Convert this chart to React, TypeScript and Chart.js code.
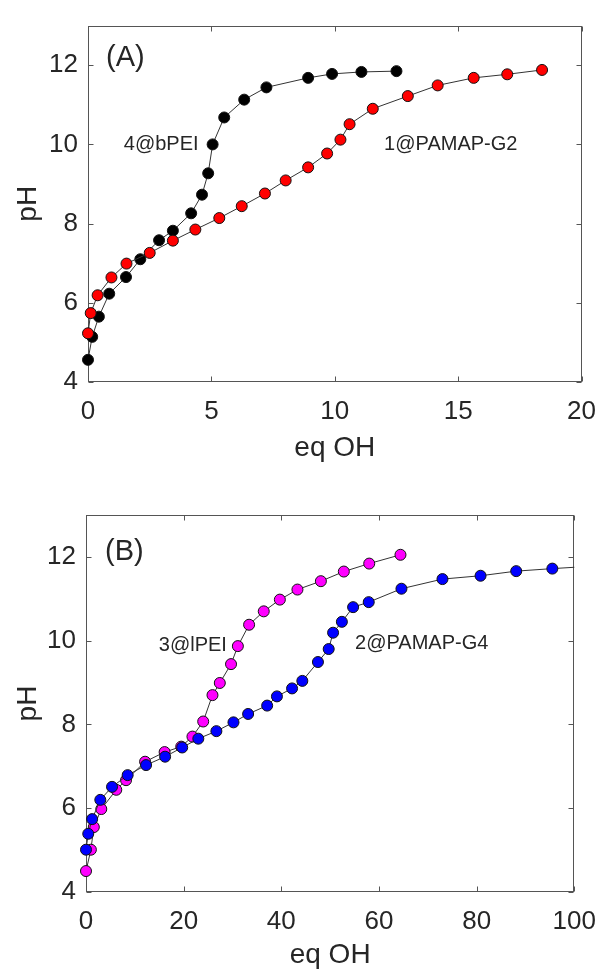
import React, { useEffect, useRef } from "react";
import { Chart, registerables } from "chart.js";

Chart.register(...registerables);

// ---- Panel A: titration of 4@bPEI and 1@PAMAP-G2 ----
const bpeiEq = [0, 0.17, 0.44, 0.86, 1.54, 2.12, 2.88, 3.44, 4.18, 4.62, 4.87, 5.05, 5.52, 6.33, 7.23, 8.92, 9.89, 11.08, 12.5];
const bpeiPH = [4.56, 5.14, 5.65, 6.23, 6.65, 7.1, 7.58, 7.82, 8.26, 8.73, 9.27, 10.0, 10.68, 11.13, 11.44, 11.68, 11.78, 11.83, 11.85];

const g2Eq = [0, 0.11, 0.39, 0.95, 1.56, 2.5, 3.44, 4.35, 5.32, 6.23, 7.17, 8.01, 8.92, 9.69, 10.23, 10.6, 11.54, 12.96, 14.17, 15.63, 16.99, 18.4];
const g2PH = [5.23, 5.74, 6.19, 6.64, 6.99, 7.26, 7.57, 7.85, 8.14, 8.44, 8.76, 9.09, 9.42, 9.77, 10.12, 10.51, 10.9, 11.22, 11.49, 11.68, 11.77, 11.88];

// ---- Panel B: titration of 3@lPEI and 2@PAMAP-G4 ----
const lpeiEq = [0, 1.0, 1.6, 3.13, 6.2, 8.2, 12.1, 16.1, 19.5, 21.8, 24.0, 25.9, 27.4, 29.7, 31.1, 33.4, 36.4, 39.7, 43.3, 48.1, 52.8, 58.0, 64.4];
const lpeiPH = [4.5, 5.01, 5.55, 5.98, 6.44, 6.67, 7.11, 7.34, 7.47, 7.71, 8.07, 8.7, 8.99, 9.44, 9.87, 10.38, 10.7, 10.98, 11.22, 11.42, 11.65, 11.84, 12.05];

const g4Eq = [0, 0.46, 1.26, 2.93, 5.33, 8.53, 12.3, 16.2, 19.7, 23.0, 26.7, 30.2, 33.2, 37.1, 39.1, 42.2, 44.3, 47.5, 49.7, 50.6, 52.4, 54.7, 57.9, 64.6, 73.0, 80.8, 88.1, 95.5, 104];
const g4PH = [5.01, 5.39, 5.74, 6.2, 6.51, 6.79, 7.03, 7.23, 7.45, 7.66, 7.84, 8.05, 8.25, 8.45, 8.67, 8.86, 9.04, 9.49, 9.8, 10.19, 10.45, 10.8, 10.92, 11.24, 11.47, 11.55, 11.66, 11.72, 11.78];

// ---- Axis ticks ----
const xTicksA = [0, 5, 10, 15, 20];
const xTicksB = [0, 20, 40, 60, 80, 100];
const yTicks = [4, 6, 8, 10, 12];

const FONT = '"Liberation Sans", Arial, Helvetica, sans-serif';
const INK = "#262626";
const FRAME = "#555555";

type Series = { label: string; xs: number[]; ys: number[]; fill: string; clip?: any };
type Note = { text: string; x: number; y: number; size: number };

type PanelProps = {
  xMax: number;
  xTicks: number[];
  series: Series[];
  notes: Note[];
  area: { left: number; right: number; top: number; bottom: number };
  titleGap: number;
};

const W = 610;
const H = 486;

const zip = (xs: number[], ys: number[]) => xs.map((x, i) => ({ x, y: ys[i] }));

// Box frame with inward ticks on all four sides (drawn under the markers)
const framePlugin = {
  id: "frame",
  beforeDatasetsDraw(chart: any) {
    const { ctx, chartArea: a, scales } = chart;
    const L = Math.round(a.left) + 0.5;
    const R = Math.round(a.right) - 0.5;
    const T = Math.round(a.top) + 0.5;
    const B = Math.round(a.bottom) - 0.5;
    ctx.save();
    ctx.strokeStyle = FRAME;
    ctx.lineWidth = 1;
    ctx.strokeRect(L, T, R - L, B - T);
    const len = 5;
    ctx.beginPath();
    for (const t of scales.x.ticks) {
      const px = Math.round(scales.x.getPixelForValue(t.value)) + 0.5;
      ctx.moveTo(px, B);
      ctx.lineTo(px, B - len);
      ctx.moveTo(px, T);
      ctx.lineTo(px, T + len);
    }
    for (const t of scales.y.ticks) {
      const py = Math.round(scales.y.getPixelForValue(t.value)) + 0.5;
      ctx.moveTo(L, py);
      ctx.lineTo(L + len, py);
      ctx.moveTo(R, py);
      ctx.lineTo(R - len, py);
    }
    ctx.stroke();
    ctx.restore();
  },
  afterDraw(chart: any) {
    const { ctx, chartArea: a, scales } = chart;
    const opts = chart.options.plugins.frame;
    ctx.save();
    ctx.fillStyle = INK;
    // axis titles
    ctx.font = `28px ${FONT}`;
    ctx.textAlign = "center";
    ctx.textBaseline = "middle";
    ctx.fillText("eq OH", (a.left + a.right) / 2, a.bottom + opts.titleGap);
    ctx.save();
    ctx.translate(28, (a.top + a.bottom) / 2);
    ctx.rotate(-Math.PI / 2);
    ctx.fillText("pH", 0, 0);
    ctx.restore();
    // panel tag and curve labels, placed in data coordinates
    ctx.textAlign = "left";
    for (const n of opts.notes as Note[]) {
      ctx.font = `${n.size}px ${FONT}`;
      ctx.fillText(n.text, scales.x.getPixelForValue(n.x), scales.y.getPixelForValue(n.y));
    }
    ctx.restore();
  },
};

function Panel({ xMax, xTicks, series, notes, area, titleGap }: PanelProps) {
  const ref = useRef<HTMLCanvasElement | null>(null);

  useEffect(() => {
    if (!ref.current) return;
    const chart = new Chart(ref.current, {
      type: "line",
      data: {
        datasets: series.map((s) => ({
          label: s.label,
          data: zip(s.xs, s.ys),
          borderColor: "#333333",
          borderWidth: 1,
          pointRadius: 5.5,
          pointBackgroundColor: s.fill,
          pointBorderColor: "#111111",
          pointBorderWidth: 1,
          tension: 0,
          fill: false,
          clip: s.clip ?? false,
        })),
      },
      options: {
        responsive: false,
        animation: false,
        devicePixelRatio: 1,
        layout: { padding: { left: 0, top: area.top, right: W - area.right, bottom: 0 } },
        plugins: {
          legend: { display: false },
          tooltip: { enabled: false },
          // @ts-ignore custom plugin options
          frame: { notes, titleGap },
        },
        scales: {
          x: {
            type: "linear",
            min: 0,
            max: xMax,
            afterBuildTicks: (s: any) => {
              s.ticks = xTicks.map((v) => ({ value: v }));
            },
            afterFit: (s: any) => {
              s.height = H - area.bottom;
            },
            grid: { display: false, drawTicks: false },
            border: { display: false },
            ticks: {
              padding: 14,
              color: INK,
              font: { family: FONT, size: 26 },
              maxRotation: 0,
              autoSkip: false,
            },
          },
          y: {
            type: "linear",
            min: 4,
            max: 13,
            afterBuildTicks: (s: any) => {
              s.ticks = yTicks.map((v) => ({ value: v }));
            },
            afterFit: (s: any) => {
              s.width = area.left;
            },
            grid: { display: false, drawTicks: false },
            border: { display: false },
            ticks: {
              padding: 10,
              color: INK,
              font: { family: FONT, size: 26 },
              autoSkip: false,
            },
          },
        },
      },
      plugins: [framePlugin],
    } as any);
    return () => chart.destroy();
  }, []);

  return <canvas ref={ref} width={W} height={H} style={{ display: "block", width: W, height: H }} />;
}

export default function App() {
  return (
    <div style={{ position: "absolute", left: 0, top: 0, width: W, height: 2 * H, background: "#ffffff" }}>
      <Panel
        xMax={20}
        xTicks={xTicksA}
        area={{ left: 88, right: 584, top: 19, bottom: 382 }}
        titleGap={66}
        series={[
          { label: "1@PAMAP-G2", xs: g2Eq, ys: g2PH, fill: "#ff0000" },
          { label: "4@bPEI", xs: bpeiEq, ys: bpeiPH, fill: "#000000" },
        ]}
        notes={[
          { text: "(A)", x: 0.73, y: 12.18, size: 29 },
          { text: "4@bPEI", x: 1.45, y: 10.0, size: 20 },
          { text: "1@PAMAP-G2", x: 12.0, y: 10.0, size: 20 },
        ]}
      />
      <Panel
        xMax={100}
        xTicks={xTicksB}
        area={{ left: 86, right: 585, top: 29, bottom: 406 }}
        titleGap={63}
        series={[
          {
            label: "2@PAMAP-G4",
            xs: g4Eq,
            ys: g4PH,
            fill: "#0000ff",
            clip: { left: 10, top: 10, right: 0, bottom: 10 },
          },
          { label: "3@lPEI", xs: lpeiEq, ys: lpeiPH, fill: "#ff00ff" },
        ]}
        notes={[
          { text: "(B)", x: 3.9, y: 12.11, size: 29 },
          { text: "3@lPEI", x: 14.9, y: 9.89, size: 20 },
          { text: "2@PAMAP-G4", x: 55.1, y: 9.94, size: 20 },
        ]}
      />
    </div>
  );
}
